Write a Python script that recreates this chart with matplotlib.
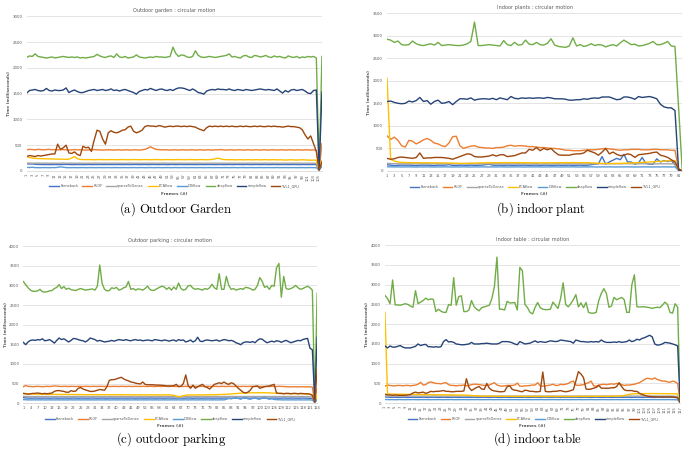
import numpy as np
import matplotlib.pyplot as plt

plt.rcParams['mathtext.fontset'] = 'cm'

names = ['Farneback', 'RLOF', 'sparseToDense', 'PCAflow', 'DISflow', 'deepflow', 'simpleflow', 'TVL1_GPU']
colors = ['#4472C4', '#ED7D31', '#A5A5A5', '#FFC000', '#5B9BD5', '#70AD47', '#264478', '#9E480E']

# ---------------- (a) outdoor garden, 106 frames
farn_a = [140, 135, 138, 130, 128, 126, 125, 126, 124, 125,
          126, 125, 124, 126, 128, 126, 124, 125, 126, 124,
          125, 124, 126, 125, 124, 125, 126, 124, 125, 126,
          124, 125, 126, 125, 124, 126, 125, 124, 126, 125,
          124, 125, 126, 124, 125, 126, 125, 124, 126, 125,
          124, 125, 126, 124, 125, 126, 125, 124, 126, 125,
          124, 125, 126, 124, 125, 126, 125, 124, 126, 125,
          124, 125, 126, 124, 125, 126, 125, 124, 126, 125,
          124, 125, 126, 124, 125, 126, 125, 124, 126, 125,
          124, 125, 126, 124, 125, 126, 125, 124, 126, 125,
          124, 125, 126, 124, 20, 110]
rlof_a = [410, 420, 415, 410, 420, 415, 410, 415, 420, 410,
          415, 410, 410, 415, 410, 405, 410, 415, 410, 410,
          410, 405, 410, 410, 415, 410, 410, 405, 410, 410,
          410, 405, 410, 410, 405, 410, 410, 405, 410, 410,
          405, 410, 420, 440, 470, 440, 420, 415, 410, 410,
          410, 405, 410, 410, 405, 410, 410, 405, 410, 410,
          405, 410, 410, 405, 410, 410, 405, 410, 410, 415,
          410, 405, 410, 410, 405, 410, 410, 405, 410, 410,
          405, 410, 410, 405, 410, 410, 405, 410, 410, 405,
          410, 410, 405, 410, 410, 405, 410, 410, 405, 410,
          410, 405, 410, 400, 30, 530]
sparse_a = [155, 152, 150, 152, 154, 150, 151, 153, 150, 152,
            151, 150, 152, 153, 150, 151, 152, 150, 151, 153,
            150, 152, 151, 150, 152, 153, 150, 151, 152, 150,
            151, 153, 150, 152, 151, 150, 152, 153, 150, 151,
            152, 150, 151, 153, 150, 152, 151, 150, 152, 153,
            150, 151, 152, 150, 151, 153, 150, 152, 151, 150,
            152, 153, 150, 151, 152, 150, 151, 153, 150, 152,
            151, 150, 152, 153, 150, 151, 152, 150, 151, 153,
            150, 152, 151, 150, 152, 153, 150, 151, 152, 150,
            151, 153, 150, 152, 151, 150, 152, 153, 150, 151,
            152, 150, 151, 150, 25, 140]
pca_a = [280, 260, 250, 245, 240, 240, 238, 236, 235, 233,
         232, 230, 230, 228, 226, 230, 250, 280, 240, 225,
         222, 220, 222, 220, 218, 220, 222, 220, 218, 220,
         222, 220, 218, 220, 222, 220, 218, 220, 222, 220,
         218, 220, 222, 220, 218, 220, 222, 220, 218, 220,
         222, 220, 218, 220, 222, 220, 218, 220, 222, 220,
         218, 220, 222, 220, 218, 220, 225, 235, 250, 235,
         222, 220, 218, 220, 215, 218, 220, 215, 218, 220,
         215, 218, 220, 215, 218, 220, 215, 218, 220, 215,
         218, 215, 212, 215, 218, 215, 212, 215, 218, 215,
         212, 210, 212, 210, 20, 200]
dis_a = [70, 68, 72, 66, 65, 64, 66, 65, 64, 66,
         65, 70, 80, 72, 66, 64, 65, 66, 64, 65,
         66, 64, 65, 66, 64, 65, 66, 64, 65, 66,
         64, 65, 66, 64, 65, 66, 64, 65, 66, 64,
         65, 66, 64, 65, 66, 64, 65, 66, 64, 65,
         66, 64, 65, 66, 64, 65, 66, 64, 65, 66,
         64, 65, 66, 64, 65, 66, 64, 65, 66, 64,
         65, 66, 64, 65, 66, 64, 65, 66, 64, 65,
         66, 64, 65, 66, 64, 65, 66, 64, 65, 66,
         64, 65, 66, 64, 65, 66, 64, 65, 66, 64,
         65, 66, 64, 65, 15, 90]
deep_a = [2200, 2230, 2220, 2270, 2220, 2210, 2200, 2190, 2200, 2210,
          2190, 2200, 2210, 2220, 2210, 2200, 2210, 2200, 2210, 2190,
          2200, 2190, 2200, 2210, 2220, 2260, 2230, 2210, 2200, 2220,
          2230, 2200, 2270, 2210, 2200, 2220, 2190, 2200, 2210, 2250,
          2210, 2200, 2190, 2200, 2210, 2200, 2220, 2210, 2210, 2200,
          2210, 2220, 2400, 2280, 2220, 2250, 2240, 2210, 2200, 2220,
          2330, 2240, 2210, 2200, 2210, 2220, 2210, 2200, 2210, 2220,
          2230, 2240, 2270, 2210, 2220, 2200, 2190, 2230, 2240, 2210,
          2200, 2240, 2230, 2210, 2220, 2240, 2210, 2200, 2230, 2210,
          2220, 2200, 2190, 2230, 2210, 2200, 2220, 2190, 2210, 2200,
          2220, 2210, 2220, 2190, 30, 2220]
simple_a = [1510, 1560, 1570, 1580, 1560, 1550, 1560, 1600, 1560, 1550,
            1570, 1560, 1560, 1570, 1610, 1520, 1550, 1570, 1540, 1520,
            1520, 1540, 1560, 1570, 1580, 1560, 1570, 1580, 1560, 1570,
            1590, 1560, 1570, 1550, 1570, 1580, 1560, 1540, 1520, 1490,
            1540, 1560, 1580, 1570, 1600, 1580, 1560, 1580, 1590, 1570,
            1560, 1580, 1560, 1590, 1610, 1610, 1600, 1580, 1560, 1590,
            1560, 1520, 1510, 1490, 1550, 1570, 1580, 1570, 1590, 1580,
            1580, 1570, 1590, 1570, 1560, 1580, 1570, 1560, 1580, 1570,
            1560, 1570, 1580, 1590, 1580, 1570, 1580, 1570, 1560, 1590,
            1550, 1510, 1560, 1530, 1570, 1580, 1560, 1570, 1580, 1550,
            1510, 1500, 1560, 1570, 20, 1530]
tvl1_a = [280, 300, 290, 280, 300, 290, 300, 310, 320, 330,
          330, 520, 420, 450, 500, 350, 340, 370, 320, 300,
          480, 450, 460, 380, 600, 790, 770, 620, 520, 740,
          780, 750, 740, 760, 790, 800, 850, 870, 770, 740,
          760, 790, 860, 880, 870, 870, 860, 880, 870, 850,
          860, 870, 860, 870, 870, 860, 870, 860, 870, 860,
          850, 820, 800, 780, 840, 870, 860, 870, 860, 870,
          860, 870, 860, 870, 860, 860, 870, 860, 870, 860,
          860, 870, 860, 870, 860, 860, 870, 860, 870, 860,
          860, 850, 860, 870, 860, 860, 850, 840, 800, 700,
          620, 680, 530, 380, 20, 180]

# ---------------- (b) indoor plant, 82 frames
farn_b = [140, 130, 120, 125, 130, 128, 130, 125, 120, 130,
          128, 130, 125, 120, 130, 128, 130, 140, 125, 120,
          130, 128, 125, 130, 125, 128, 130, 140, 150, 130,
          128, 130, 125, 130, 128, 125, 130, 128, 130, 125,
          128, 130, 125, 128, 130, 125, 128, 130, 125, 128,
          130, 125, 128, 130, 125, 128, 140, 150, 160, 320,
          150, 200, 240, 280, 250, 370, 200, 200, 150, 180,
          300, 170, 150, 150, 270, 200, 230, 210, 230, 140,
          20, 0]
rlof_b = [780, 700, 750, 680, 560, 530, 680, 660, 600, 640,
          690, 720, 680, 620, 600, 560, 540, 620, 760, 770,
          560, 500, 530, 550, 560, 530, 520, 510, 510, 500,
          520, 520, 530, 560, 570, 550, 560, 560, 550, 540,
          540, 530, 520, 520, 510, 500, 500, 490, 480, 460,
          460, 450, 450, 450, 460, 470, 470, 470, 480, 490,
          500, 490, 480, 470, 460, 470, 470, 480, 480, 480,
          470, 470, 470, 480, 480, 470, 470, 470, 460, 460,
          30, 0]
sparse_b = [170, 165, 162, 160, 158, 160, 161, 159, 160, 158,
            160, 161, 159, 160, 158, 160, 161, 159, 160, 158,
            160, 161, 159, 160, 158, 160, 161, 159, 160, 158,
            160, 161, 159, 160, 158, 160, 161, 159, 160, 158,
            160, 161, 159, 160, 158, 160, 161, 159, 160, 158,
            160, 161, 159, 160, 158, 160, 161, 159, 160, 158,
            160, 161, 159, 160, 158, 160, 161, 159, 160, 158,
            160, 161, 159, 160, 158, 160, 161, 159, 160, 158,
            20, 0]
pca_b = [2060, 260, 220, 200, 190, 188, 186, 185, 184, 183,
         182, 181, 180, 180, 180, 179, 178, 176, 175, 172,
         170, 170, 172, 175, 176, 178, 180, 181, 182, 183,
         184, 184, 185, 186, 186, 185, 185, 184, 183, 182,
         182, 181, 180, 180, 181, 182, 183, 184, 184, 185,
         185, 186, 186, 185, 184, 183, 180, 176, 172, 168,
         166, 165, 166, 168, 170, 172, 175, 178, 182, 186,
         190, 195, 200, 205, 210, 215, 220, 225, 228, 230,
         20, 0]
dis_b = [95, 92, 90, 91, 89, 90, 92, 90, 89, 91,
         90, 92, 90, 89, 91, 90, 92, 90, 89, 91,
         90, 92, 90, 89, 91, 90, 92, 90, 89, 91,
         90, 92, 90, 89, 91, 90, 92, 90, 89, 91,
         90, 92, 90, 89, 91, 90, 92, 90, 89, 91,
         90, 92, 90, 89, 91, 90, 92, 90, 89, 91,
         90, 92, 90, 89, 91, 90, 92, 90, 89, 91,
         90, 92, 90, 89, 91, 90, 92, 90, 89, 91,
         15, 0]
deep_b = [2920, 2900, 2850, 2880, 2800, 2790, 2800, 2880, 2820, 2790,
          2780, 2800, 2820, 2790, 2850, 2780, 2790, 2800, 2790, 2780,
          2780, 2790, 2820, 2870, 3300, 2780, 2780, 2790, 2800, 2790,
          2780, 2770, 2890, 2800, 2780, 2850, 2790, 2800, 2900, 2810,
          2800, 2850, 2800, 2790, 2830, 2930, 2790, 2760, 2750, 2740,
          2770, 2950, 2770, 2800, 2760, 2780, 2820, 2780, 2800, 2790,
          2750, 2780, 2800, 2770, 2840, 2900, 2850, 2800, 2810, 2770,
          2780, 2800, 2830, 2870, 2800, 2800, 2830, 2870, 2770, 2760,
          1400, 0]
simple_b = [1540, 1550, 1520, 1500, 1490, 1500, 1550, 1530, 1560, 1630,
            1540, 1560, 1480, 1540, 1570, 1500, 1510, 1540, 1470, 1540,
            1600, 1600, 1590, 1620, 1570, 1590, 1600, 1600, 1590, 1610,
            1580, 1620, 1600, 1580, 1650, 1610, 1600, 1620, 1610, 1620,
            1610, 1620, 1620, 1610, 1630, 1620, 1600, 1600, 1600, 1590,
            1570, 1570, 1580, 1580, 1600, 1590, 1610, 1620, 1610, 1640,
            1640, 1640, 1610, 1580, 1590, 1640, 1640, 1620, 1590, 1650,
            1630, 1640, 1650, 1630, 1600, 1480, 1420, 1400, 1400, 1340,
            20, 0]
tvl1_b = [280, 260, 270, 300, 310, 300, 290, 280, 300, 400,
          280, 290, 290, 300, 300, 300, 290, 280, 260, 290,
          320, 350, 380, 370, 320, 310, 310, 320, 330, 360,
          330, 360, 360, 320, 330, 340, 370, 400, 400, 480,
          460, 520, 450, 500, 470, 500, 420, 360, 350, 350,
          350, 370, 380, 380, 400, 460, 430, 400, 350, 420,
          500, 380, 420, 370, 340, 350, 380, 360, 300, 360,
          370, 380, 390, 410, 420, 350, 330, 300, 250, 200,
          50, 0]

# ---------------- (c) outdoor parking, 124 frames
farn_c = [140, 135, 130, 128, 130, 132, 130, 128, 130, 131,
          130, 128, 130, 132, 130, 128, 130, 131, 130, 128,
          130, 132, 130, 128, 130, 131, 130, 128, 130, 132,
          130, 128, 130, 131, 130, 128, 130, 132, 130, 128,
          130, 131, 130, 128, 130, 132, 130, 128, 130, 131,
          130, 128, 130, 132, 130, 128, 130, 131, 130, 128,
          130, 132, 130, 128, 130, 131, 130, 128, 130, 132,
          130, 128, 130, 131, 130, 128, 130, 132, 130, 128,
          130, 131, 130, 128, 130, 132, 130, 128, 130, 131,
          130, 128, 130, 132, 130, 128, 130, 131, 130, 128,
          130, 132, 130, 128, 130, 131, 130, 128, 130, 132,
          130, 128, 130, 131, 130, 128, 130, 132, 130, 128,
          125, 120, 20, 120]
rlof_c = [420, 450, 430, 425, 420, 425, 430, 425, 420, 425,
          430, 425, 430, 440, 435, 430, 425, 430, 428, 425,
          430, 428, 425, 430, 428, 425, 430, 428, 425, 430,
          428, 425, 430, 428, 425, 430, 428, 425, 430, 428,
          425, 430, 428, 425, 430, 428, 425, 430, 428, 425,
          430, 428, 425, 430, 428, 425, 430, 428, 425, 430,
          428, 425, 430, 428, 425, 430, 428, 425, 430, 428,
          425, 430, 428, 425, 430, 428, 425, 430, 428, 425,
          430, 428, 425, 430, 428, 425, 430, 428, 425, 430,
          428, 425, 430, 428, 425, 430, 428, 425, 430, 428,
          425, 430, 428, 425, 430, 428, 425, 430, 428, 425,
          420, 418, 415, 420, 418, 415, 420, 418, 415, 420,
          415, 410, 30, 400]
sparse_c = [175, 172, 170, 171, 169, 170, 172, 170, 169, 171,
            170, 172, 170, 169, 171, 170, 172, 170, 169, 171,
            170, 172, 170, 169, 171, 170, 172, 170, 169, 171,
            170, 172, 170, 169, 171, 170, 172, 170, 169, 171,
            170, 172, 170, 169, 171, 170, 172, 170, 169, 171,
            170, 172, 170, 169, 171, 170, 172, 170, 169, 171,
            170, 172, 170, 169, 171, 170, 172, 170, 169, 171,
            170, 172, 170, 169, 171, 170, 172, 170, 169, 171,
            170, 172, 170, 169, 171, 170, 172, 170, 169, 171,
            170, 172, 170, 169, 171, 170, 172, 170, 169, 171,
            170, 172, 170, 169, 171, 170, 172, 170, 169, 171,
            170, 172, 170, 169, 171, 170, 172, 170, 169, 171,
            165, 160, 25, 150]
pca_c = [250, 245, 240, 236, 234, 232, 230, 230, 229, 228,
         228, 227, 226, 226, 225, 225, 224, 224, 223, 222,
         222, 221, 220, 220, 220, 219, 219, 218, 218, 218,
         218, 218, 217, 217, 217, 217, 216, 216, 216, 216,
         216, 215, 215, 215, 215, 215, 215, 214, 214, 214,
         214, 214, 214, 213, 213, 213, 213, 213, 212, 212,
         212, 212, 210, 200, 180, 160, 170, 190, 205, 210,
         210, 210, 211, 211, 212, 212, 213, 213, 214, 215,
         216, 218, 220, 222, 225, 228, 232, 236, 240, 245,
         250, 255, 258, 260, 262, 264, 265, 266, 267, 268,
         268, 266, 264, 262, 260, 256, 252, 250, 248, 246,
         245, 244, 243, 242, 242, 241, 240, 240, 239, 238,
         225, 210, 25, 200]
dis_c = [90, 88, 85, 84, 85, 86, 84, 85, 86, 84,
         85, 86, 84, 85, 86, 84, 85, 86, 84, 85,
         86, 84, 85, 86, 84, 85, 86, 84, 85, 86,
         84, 85, 86, 84, 85, 86, 84, 85, 86, 84,
         85, 86, 84, 85, 86, 84, 85, 86, 84, 85,
         86, 84, 85, 86, 84, 85, 86, 84, 85, 86,
         84, 85, 86, 84, 85, 86, 84, 85, 86, 84,
         85, 86, 84, 85, 86, 84, 85, 86, 84, 85,
         86, 84, 85, 86, 84, 100, 120, 110, 130, 140,
         120, 100, 130, 150, 110, 100, 120, 140, 110, 100,
         130, 150, 120, 100, 110, 95, 90, 88, 86, 85,
         86, 84, 85, 86, 84, 85, 86, 84, 85, 86,
         84, 80, 15, 90]
deep_c = [3100, 3020, 2940, 2880, 2850, 2850, 2860, 2900, 2840, 2830,
          2840, 2860, 2870, 2920, 2950, 3020, 2920, 2970, 2900, 2930,
          2890, 2880, 2870, 2900, 2920, 2900, 2880, 2890, 2900, 2910,
          2880, 2980, 3520, 3050, 2900, 2860, 2870, 2940, 2920, 2950,
          2880, 2900, 2940, 2960, 3100, 2900, 2920, 2880, 2910, 2900,
          2880, 2920, 2980, 2900, 2870, 2880, 2920, 2950, 2980, 2960,
          2900, 2950, 2880, 2960, 2900, 3060, 2920, 2880, 2900, 2990,
          3000, 2930, 2900, 2920, 2900, 2880, 2920, 2900, 2940, 3030,
          2940, 2900, 3300, 2900, 2900, 3230, 3000, 2900, 2920, 2880,
          2900, 2920, 2900, 2950, 2940, 2920, 2880, 2900, 3000, 3200,
          3100, 2950, 2980, 2900, 3000, 2980, 3450, 3560, 2700, 3230,
          2920, 2900, 2920, 2950, 3000, 2940, 2900, 2920, 2950, 2980,
          2940, 2880, 50, 2800]
simple_c = [1550, 1490, 1560, 1600, 1610, 1600, 1620, 1610, 1640, 1590,
            1600, 1620, 1580, 1530, 1600, 1660, 1620, 1640, 1600, 1560,
            1600, 1650, 1640, 1620, 1600, 1590, 1560, 1600, 1660, 1640,
            1620, 1580, 1600, 1580, 1560, 1570, 1580, 1600, 1580, 1600,
            1620, 1610, 1600, 1620, 1600, 1590, 1610, 1620, 1600, 1610,
            1590, 1600, 1610, 1600, 1590, 1620, 1610, 1600, 1590, 1610,
            1600, 1580, 1600, 1610, 1580, 1620, 1600, 1610, 1560, 1580,
            1610, 1560, 1590, 1680, 1580, 1570, 1600, 1610, 1600, 1590,
            1600, 1610, 1580, 1600, 1620, 1610, 1590, 1600, 1580, 1540,
            1520, 1490, 1540, 1560, 1560, 1550, 1570, 1540, 1600, 1640,
            1630, 1580, 1540, 1560, 1580, 1560, 1590, 1580, 1550, 1580,
            1600, 1570, 1540, 1560, 1580, 1600, 1590, 1620, 1640, 1650,
            1400, 1360, 40, 1680]
tvl1_c = [250, 240, 230, 240, 250, 250, 260, 250, 240, 250,
          240, 250, 260, 300, 320, 320, 310, 300, 280, 280,
          320, 300, 310, 380, 400, 360, 340, 320, 300, 300,
          310, 330, 350, 340, 330, 420, 580, 600, 600, 620,
          640, 660, 620, 590, 570, 540, 530, 510, 500, 490,
          540, 480, 470, 470, 470, 465, 460, 460, 455, 450,
          440, 440, 440, 445, 480, 420, 430, 500, 720, 450,
          380, 460, 380, 420, 450, 480, 420, 400, 360, 420,
          480, 500, 520, 500, 540, 500, 480, 520, 500, 440,
          380, 330, 280, 260, 280, 330, 420, 430, 440, 380,
          400, 420, 430, 440, 460, 480, 260, 250, 250, 240,
          250, 250, 240, 250, 250, 240, 250, 245, 240, 240,
          230, 200, 30, 870]

# ---------------- (d) indoor table, 117 frames
farn_d = [160, 155, 150, 152, 150, 148, 150, 152, 150, 148,
          150, 152, 150, 148, 150, 152, 150, 148, 150, 152,
          150, 148, 150, 152, 150, 148, 150, 152, 150, 148,
          150, 152, 150, 148, 150, 152, 150, 148, 150, 152,
          150, 148, 150, 152, 150, 148, 150, 152, 150, 148,
          150, 152, 150, 148, 150, 152, 150, 148, 150, 152,
          150, 148, 150, 152, 150, 148, 150, 152, 150, 148,
          150, 152, 150, 148, 150, 152, 150, 148, 150, 152,
          150, 148, 150, 152, 150, 148, 150, 152, 150, 148,
          150, 152, 150, 148, 150, 152, 150, 148, 150, 152,
          150, 148, 150, 152, 150, 148, 150, 152, 150, 148,
          150, 152, 150, 148, 145, 140, 10]
rlof_d = [430, 460, 450, 440, 440, 450, 450, 440, 450, 450,
          440, 450, 460, 480, 530, 460, 470, 520, 540, 520,
          500, 500, 490, 510, 520, 470, 450, 450, 440, 450,
          450, 460, 440, 450, 470, 480, 480, 470, 460, 450,
          450, 460, 490, 520, 460, 440, 430, 440, 450, 450,
          450, 460, 510, 430, 430, 440, 440, 450, 460, 460,
          520, 440, 430, 440, 450, 460, 480, 450, 450, 480,
          470, 480, 500, 540, 560, 460, 450, 460, 470, 500,
          520, 560, 440, 430, 460, 470, 480, 470, 480, 490,
          480, 500, 490, 470, 450, 460, 460, 470, 480, 500,
          520, 560, 600, 630, 620, 610, 640, 600, 580, 560,
          560, 540, 530, 560, 540, 500, 10]
sparse_d = [185, 182, 180, 181, 179, 180, 182, 180, 179, 181,
            180, 182, 180, 179, 181, 180, 182, 180, 179, 181,
            180, 182, 180, 179, 181, 180, 182, 180, 179, 181,
            180, 182, 180, 179, 181, 180, 182, 180, 179, 181,
            180, 182, 180, 179, 181, 180, 182, 180, 179, 181,
            180, 182, 180, 179, 181, 180, 182, 180, 179, 181,
            180, 182, 180, 179, 181, 180, 182, 180, 179, 181,
            180, 182, 180, 179, 181, 180, 182, 180, 179, 181,
            180, 182, 180, 179, 181, 180, 182, 180, 179, 181,
            180, 182, 180, 179, 181, 180, 182, 180, 179, 181,
            180, 182, 180, 179, 181, 180, 182, 180, 179, 181,
            180, 182, 180, 179, 175, 170, 10]
pca_d = [2300, 240, 232, 230, 228, 227, 226, 225, 224, 223,
         222, 222, 221, 220, 220, 219, 218, 217, 216, 215,
         214, 213, 212, 212, 211, 210, 210, 209, 208, 207,
         206, 205, 204, 200, 195, 190, 185, 182, 180, 179,
         178, 178, 177, 177, 176, 176, 175, 175, 175, 174,
         174, 174, 173, 173, 173, 172, 172, 172, 172, 171,
         171, 171, 171, 170, 170, 170, 170, 170, 170, 170,
         170, 170, 170, 170, 170, 170, 171, 171, 171, 172,
         172, 172, 173, 173, 174, 174, 175, 175, 176, 176,
         177, 178, 180, 185, 195, 210, 225, 235, 240, 240,
         242, 242, 243, 243, 244, 244, 244, 243, 243, 242,
         242, 241, 240, 240, 238, 235, 10]
dis_d = [95, 92, 90, 91, 89, 90, 92, 90, 89, 91,
         90, 92, 90, 89, 91, 90, 92, 90, 89, 91,
         90, 92, 90, 89, 91, 90, 92, 90, 89, 91,
         90, 92, 90, 89, 91, 90, 92, 90, 89, 91,
         90, 92, 90, 89, 91, 90, 92, 90, 89, 91,
         90, 92, 90, 89, 91, 90, 92, 90, 89, 91,
         90, 92, 90, 89, 91, 90, 92, 90, 89, 91,
         90, 92, 90, 89, 91, 90, 92, 90, 89, 91,
         90, 92, 90, 89, 91, 90, 92, 90, 89, 91,
         90, 92, 90, 89, 91, 90, 92, 90, 89, 91,
         90, 92, 90, 89, 91, 90, 92, 90, 89, 91,
         90, 92, 90, 89, 88, 85, 5]
deep_d = [2730, 2650, 2520, 3120, 2490, 2490, 2480, 2500, 2520, 2500,
          2460, 2430, 2850, 2520, 2560, 2600, 2660, 2620, 2640, 2630,
          2320, 2380, 2330, 2300, 2300, 2500, 2480, 3180, 2480, 2700,
          2720, 2320, 2320, 2360, 2600, 2450, 2380, 2340, 2420, 2440,
          2460, 2480, 2650, 2950, 3700, 2380, 2380, 2360, 2580, 2540,
          2540, 2550, 2360, 3440, 3350, 2500, 2420, 2300, 2260, 2430,
          2550, 2420, 2380, 2370, 2370, 2380, 2560, 2480, 2400, 2650,
          3050, 2500, 2440, 2520, 2620, 2750, 2440, 2540, 2420, 2550,
          2300, 2280, 2280, 2300, 2600, 2780, 2900, 2780, 2430, 2460,
          2680, 2620, 2650, 2680, 2620, 2300, 2300, 3000, 3250, 2440,
          2440, 2440, 2440, 2430, 2420, 2400, 2420, 2430, 2420, 2480,
          2560, 2500, 2300, 2280, 2520, 2430, 20]
simple_d = [1450, 1400, 1450, 1420, 1420, 1440, 1460, 1420, 1400, 1400,
            1400, 1420, 1440, 1500, 1460, 1480, 1490, 1430, 1430, 1420,
            1430, 1420, 1430, 1560, 1610, 1550, 1560, 1540, 1500, 1490,
            1480, 1480, 1490, 1500, 1540, 1500, 1500, 1500, 1510, 1510,
            1520, 1510, 1500, 1500, 1500, 1520, 1560, 1560, 1560, 1550,
            1530, 1500, 1480, 1560, 1530, 1500, 1510, 1520, 1550, 1580,
            1540, 1560, 1550, 1540, 1560, 1580, 1570, 1560, 1570, 1600,
            1590, 1580, 1570, 1560, 1520, 1600, 1580, 1560, 1560, 1550,
            1550, 1560, 1550, 1560, 1550, 1600, 1560, 1540, 1540, 1540,
            1550, 1540, 1560, 1540, 1550, 1560, 1600, 1560, 1580, 1620,
            1600, 1640, 1660, 1690, 1720, 1680, 1500, 1470, 1480, 1500,
            1540, 1530, 1520, 1500, 1480, 1450, 10]
tvl1_d = [230, 210, 210, 200, 210, 200, 200, 200, 200, 210,
          220, 260, 280, 260, 270, 280, 250, 270, 300, 290,
          300, 300, 310, 320, 300, 300, 290, 290, 300, 300,
          300, 310, 620, 400, 320, 360, 400, 420, 360, 350,
          500, 380, 330, 310, 300, 290, 290, 300, 420, 440,
          350, 330, 320, 300, 290, 330, 320, 300, 300, 290,
          290, 300, 790, 300, 290, 290, 300, 300, 310, 320,
          300, 290, 300, 320, 340, 560, 800, 740, 650, 360,
          350, 360, 380, 400, 450, 380, 380, 380, 380, 390,
          390, 420, 520, 420, 340, 320, 320, 320, 300, 300,
          250, 220, 200, 180, 170, 165, 160, 160, 160, 160,
          160, 160, 160, 160, 150, 140, 20]

panels = [
    dict(series=[farn_a, rlof_a, sparse_a, pca_a, dis_a, deep_a, simple_a, tvl1_a],
         title='Outdoor garden : circular motion', ymax=3000, step=2, rot=90,
         rect=[0.039, 0.620, 0.431, 0.344], caption='(a)\\ Outdoor\\ Garden', cap_xy=(0.257, 0.535)),
    dict(series=[farn_b, rlof_b, sparse_b, pca_b, dis_b, deep_b, simple_b, tvl1_b],
         title='Indoor plants : circular motion', ymax=3500, step=2, rot=0,
         rect=[0.565, 0.620, 0.431, 0.351], caption='(b)\\ indoor\\ plant', cap_xy=(0.790, 0.535)),
    dict(series=[farn_c, rlof_c, sparse_c, pca_c, dis_c, deep_c, simple_c, tvl1_c],
         title='Outdoor parking : circular motion', ymax=4000, step=3, rot=0,
         rect=[0.034, 0.104, 0.429, 0.349], caption='(c)\\ outdoor\\ parking', cap_xy=(0.250, 0.024)),
    dict(series=[farn_d, rlof_d, sparse_d, pca_d, dis_d, deep_d, simple_d, tvl1_d],
         title='Indoor table : circular motion', ymax=4000, step=2, rot=90,
         rect=[0.562, 0.104, 0.431, 0.351], caption='(d)\\ indoor\\ table', cap_xy=(0.785, 0.024)),
]

txt = '#595959'
fig = plt.figure(figsize=(6.85, 4.5), dpi=100)

for p in panels:
    ax = fig.add_axes(p['rect'])
    n = len(p['series'][0])
    for name, col, y in zip(names, colors, p['series']):
        ax.plot(np.arange(1, len(y) + 1), y, color=col, lw=1.0, label=name)
    ax.set_xlim(1, n)
    ax.set_ylim(0, p['ymax'])
    ax.set_yticks(np.arange(0, p['ymax'] + 1, 500))
    ticks = np.arange(1, n + 1, p['step'])
    ax.set_xticks(ticks)
    ax.set_xticklabels([str(t) for t in ticks], rotation=p['rot'], fontsize=2.6, color=txt)
    ax.tick_params(axis='y', labelsize=2.8, labelcolor=txt, length=0, pad=3)
    ax.tick_params(axis='x', length=0, pad=2)
    for s in ['top', 'right', 'left']:
        ax.spines[s].set_visible(False)
    ax.spines['bottom'].set_color('#D9D9D9')
    ax.spines['bottom'].set_linewidth(0.6)
    ax.grid(axis='y', color='#D9D9D9', lw=0.5)
    ax.set_axisbelow(True)
    ax.set_title(p['title'], fontsize=3.6, color=txt, pad=3)
    ax.text(-0.06, 0.5, 'Time (milliseconds)', transform=ax.transAxes, rotation=90,
            ha='center', va='center', fontsize=2.9, color=txt, fontweight='bold')
    ax.text(0.5, -0.145, 'Frames (#)', transform=ax.transAxes, ha='center', va='center',
            fontsize=3.1, color=txt, fontweight='bold')
    leg = ax.legend(loc='center', bbox_to_anchor=(0.5, -0.10), ncol=8, fontsize=2.5,
                    frameon=False, handlelength=2.8, columnspacing=1.2, handletextpad=0.3)
    for t in leg.get_texts():
        t.set_color(txt)
    fig.text(p['cap_xy'][0], p['cap_xy'][1], '$\\mathrm{' + p['caption'] + '}$',
             ha='center', va='center', fontsize=9.2)

fig.savefig('out.png', dpi=100)
